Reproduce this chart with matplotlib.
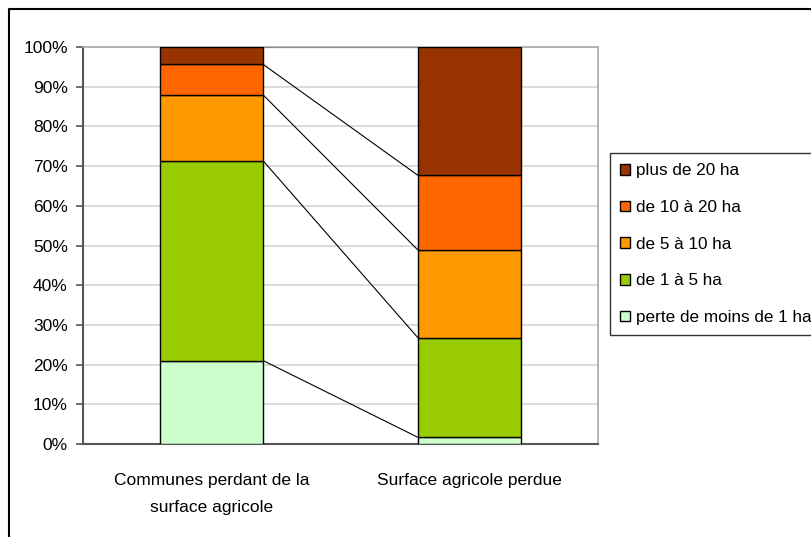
import matplotlib.pyplot as plt
from matplotlib.lines import Line2D
from matplotlib.ticker import FuncFormatter

# -------- DATA --------
categories = ["Communes perdant de la\nsurface agricole", "Surface agricole perdue"]
series_names = ["perte de moins de 1 ha", "de 1 à 5 ha", "de 5 à 10 ha",
                "de 10 à 20 ha", "plus de 20 ha"]
moins_1 = [21.0, 1.7]
de_1_5 = [50.3, 25.1]
de_5_10 = [16.6, 22.1]
de_10_20 = [7.7, 18.8]
plus_20 = [4.4, 32.3]
colors = ["#CCFFCC", "#99CC00", "#FF9900", "#FF6600", "#993300"]

plt.rcParams['font.family'] = ['Liberation Sans', 'DejaVu Sans']

fig = plt.figure(figsize=(8.12, 5.37), dpi=100)
ax = fig.add_axes([83/812, 1 - 444/537, 515/812, 397/537])

x = [0, 1]
width = 0.4
bottom = [0.0, 0.0]
tops = []
handles = []
for vals, col, name in zip([moins_1, de_1_5, de_5_10, de_10_20, plus_20], colors, series_names):
    b = ax.bar(x, vals, width, bottom=bottom, color=col, edgecolor="black",
               linewidth=1.0, label=name, zorder=3)
    handles.append(b)
    bottom = [bottom[i] + vals[i] for i in range(2)]
    tops.append(list(bottom))

# -------- SERIES LINES --------
for t in tops:
    ax.plot([x[0] + width / 2, x[1] - width / 2], t, color="black", lw=0.8, zorder=2)

# -------- AXES SETTINGS --------
ax.set_xlim(-0.5, 1.5)
ax.set_ylim(0, 100)
ax.set_yticks(range(0, 101, 10))
ax.yaxis.set_major_formatter(FuncFormatter(lambda v, p: f"{int(v)}%"))
ax.grid(axis="y", color="#d4d4d4", lw=1.2, zorder=0)
ax.set_xticks(x)
ax.set_xticklabels(categories, linespacing=2.0)
ax.tick_params(axis="x", length=0, pad=21, labelsize=12.5)
ax.tick_params(axis="y", length=5, width=1.2, color="#555555", pad=6, labelsize=12.5)
for s in ["left", "bottom"]:
    ax.spines[s].set_color("#555555")
    ax.spines[s].set_linewidth(1.5)
for s in ["top", "right"]:
    ax.spines[s].set_color("#aaaaaa")
    ax.spines[s].set_linewidth(1.2)

# -------- LEGEND --------
leg = fig.legend(handles[::-1], series_names[::-1], loc="upper left",
                 bbox_to_anchor=(610/812, 1 - 153/537), fontsize=12.3,
                 frameon=True, fancybox=False, edgecolor="black",
                 handlelength=0.6, handleheight=0.6, handletextpad=0.3,
                 labelspacing=1.27, borderpad=0.6, borderaxespad=0)
leg.get_frame().set_linewidth(1.0)

# -------- OUTER BORDER --------
fig.add_artist(Line2D([9/812, 9/812, 1], [0, 1 - 9/537, 1 - 9/537],
                      transform=fig.transFigure, color="black", lw=1.5))

fig.savefig("out.png", dpi=100)
